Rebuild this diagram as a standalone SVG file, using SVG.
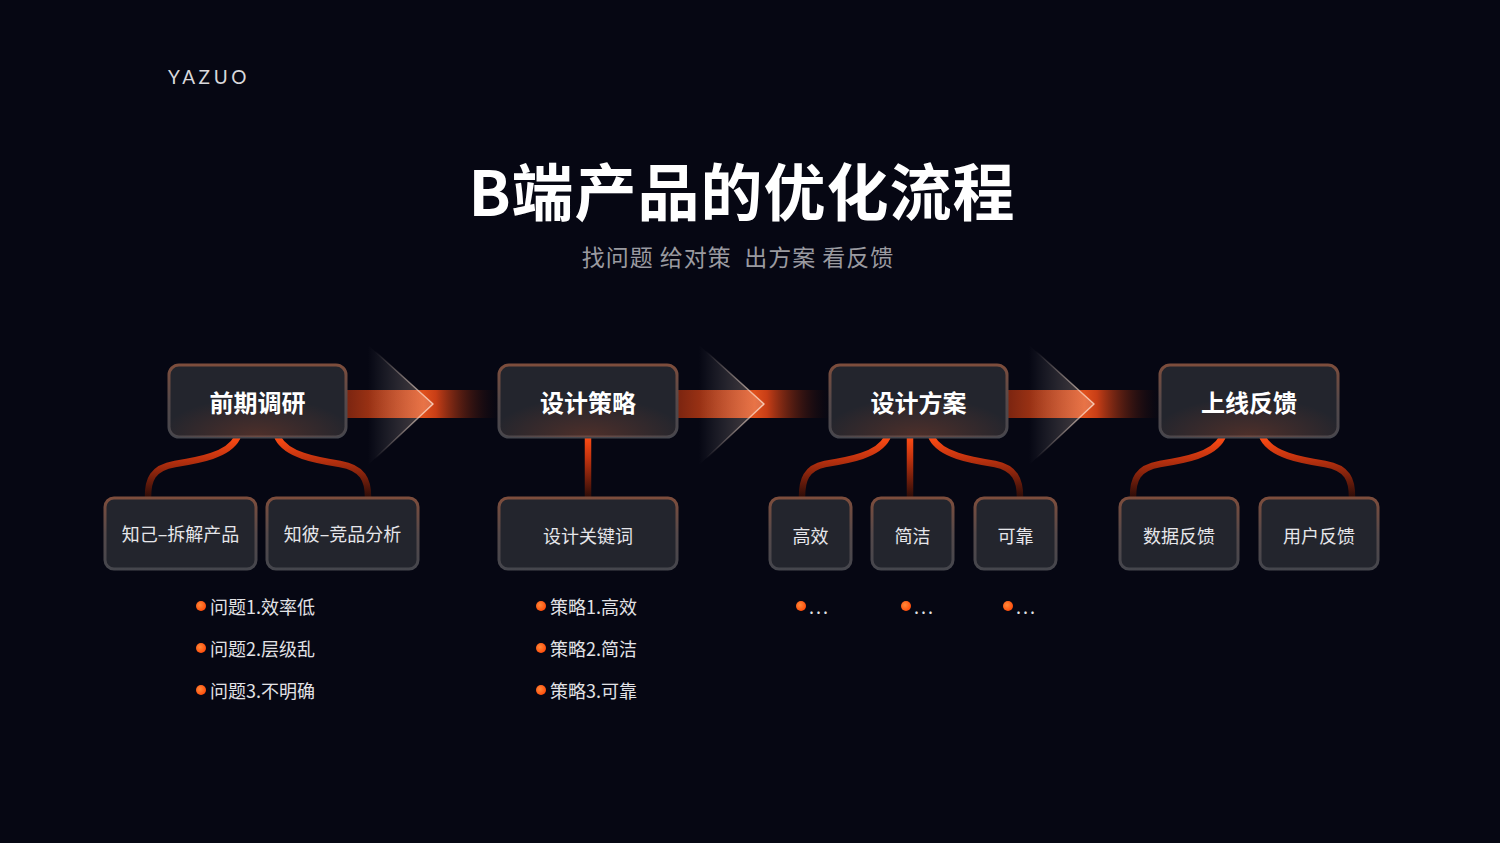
<svg xmlns="http://www.w3.org/2000/svg" width="1500" height="843" viewBox="0 0 1500 843">
<defs>
<style>
.cjk{font-family:"Noto Sans CJK SC","Noto Sans",sans-serif}
.top{fill:#ffffff;font-size:24px;font-weight:700;text-anchor:middle}
.sub{fill:#e6e6ea;font-size:18px;text-anchor:middle}
.bul{fill:#e2e2e6;font-size:18px}
.box{fill:#23252d;stroke:url(#bstroke);stroke-width:3}
.link{fill:none;stroke:url(#lg);stroke-width:6.5;stroke-linecap:round}
.band{fill:url(#bandg)}
.dots{letter-spacing:2px}
</style>
<linearGradient id="bstroke" x1="0" y1="0" x2="0" y2="1">
<stop offset="0" stop-color="#7d4d3c"/>
<stop offset="0.5" stop-color="#55494a"/>
<stop offset="1" stop-color="#45464d"/>
</linearGradient>
<radialGradient id="glow" cx="0.5" cy="1" r="0.55">
<stop offset="0" stop-color="#ff5a1e" stop-opacity="0.2"/>
<stop offset="1" stop-color="#ff5a1e" stop-opacity="0"/>
</radialGradient>
<linearGradient id="lg" x1="0" y1="437" x2="0" y2="497" gradientUnits="userSpaceOnUse">
<stop offset="0" stop-color="#ff4c14"/>
<stop offset="0.35" stop-color="#c2330f"/>
<stop offset="1" stop-color="#2c0c08"/>
</linearGradient>
<linearGradient id="bandg" x1="0" y1="0" x2="1" y2="0">
<stop offset="0" stop-color="#7a2410"/>
<stop offset="0.5" stop-color="#e0501c"/>
<stop offset="0.58" stop-color="#c83e16"/>
<stop offset="1" stop-color="#1a0808" stop-opacity="0"/>
</linearGradient>
<linearGradient id="trig" x1="0" y1="0" x2="1" y2="0">
<stop offset="0" stop-color="#ffffff" stop-opacity="0"/>
<stop offset="1" stop-color="#ffd2b8" stop-opacity="0.3"/>
</linearGradient>
<radialGradient id="tedge" cx="1" cy="0.5" r="1">
<stop offset="0" stop-color="#ffe6d6" stop-opacity="0.8"/>
<stop offset="1" stop-color="#ffe6d6" stop-opacity="0"/>
</radialGradient>
<radialGradient id="dot" cx="0.4" cy="0.4" r="0.6">
<stop offset="0" stop-color="#ff8a3a"/>
<stop offset="1" stop-color="#ff4e0c"/>
</radialGradient>
<g id="arrow">
<rect class="band" x="0" y="390" width="155" height="28"/>
<polygon points="22,345 87,404 22,465" fill="url(#trig)"/>
<polyline points="22,345 87,404 22,465" fill="none" stroke="url(#tedge)" stroke-width="1.5" stroke-linejoin="round"/>
</g>
</defs>
<rect width="1500" height="843" fill="#060713"/>

<text x="168" y="84" font-family="Lato,'Liberation Sans',sans-serif" font-size="19" fill="#d8d8dc" letter-spacing="3.6">YAZUO</text>
<text class="cjk" x="742" y="216" font-size="62" font-weight="700" fill="#ffffff" text-anchor="middle" letter-spacing="1">B端产品的优化流程</text>
<text class="cjk" x="738" y="266" font-size="23" fill="#9a9aa0" text-anchor="middle" letter-spacing="1" xml:space="preserve">找问题 给对策  出方案 看反馈</text>

<g id="connectors">
<use href="#arrow" x="346"/>
<use href="#arrow" x="677"/>
<use href="#arrow" x="1007"/>
<path class="link" d="M237,438 C228,455 200,460 175,464 C152,468 148,480 148,497"/>
<path class="link" d="M278,438 C287,455 315,460 340,464 C363,468 368,480 368,497"/>
<line class="link" x1="588" y1="438" x2="588" y2="497" stroke-linecap="butt"/>
<path class="link" d="M887,438 C878,455 850,460 825,464 C806,468 802,480 802,497"/>
<line class="link" x1="910" y1="438" x2="910" y2="497" stroke-linecap="butt"/>
<path class="link" d="M932,438 C941,455 970,460 995,464 C1015,468 1020,480 1020,497"/>
<path class="link" d="M1222,438 C1213,455 1185,460 1160,464 C1137,468 1133,480 1133,497"/>
<path class="link" d="M1263,438 C1272,455 1300,460 1325,464 C1348,468 1352,480 1352,497"/>
</g>

<g id="n1">
<rect class="box" x="169" y="365" width="177" height="72" rx="10"/>
<rect x="169" y="365" width="177" height="72" rx="10" fill="url(#glow)"/>
<text class="cjk top" x="257.5" y="412">前期调研</text>
</g>
<g id="n2">
<rect class="box" x="499" y="365" width="178" height="72" rx="10"/>
<rect x="499" y="365" width="178" height="72" rx="10" fill="url(#glow)"/>
<text class="cjk top" x="588" y="412">设计策略</text>
</g>
<g id="n3">
<rect class="box" x="830" y="365" width="177" height="72" rx="10"/>
<rect x="830" y="365" width="177" height="72" rx="10" fill="url(#glow)"/>
<text class="cjk top" x="918.5" y="412">设计方案</text>
</g>
<g id="n4">
<rect class="box" x="1160" y="365" width="178" height="72" rx="10"/>
<rect x="1160" y="365" width="178" height="72" rx="10" fill="url(#glow)"/>
<text class="cjk top" x="1249" y="412">上线反馈</text>
</g>

<g id="c1a">
<rect class="box" x="105" y="498" width="151" height="71" rx="9"/>
<text class="cjk sub" x="180.5" y="541">知己–拆解产品</text>
</g>
<g id="c1b">
<rect class="box" x="267" y="498" width="151" height="71" rx="9"/>
<text class="cjk sub" x="342.5" y="541">知彼–竞品分析</text>
</g>
<g id="c2">
<rect class="box" x="499" y="498" width="178" height="71" rx="9"/>
<text class="cjk sub" x="588" y="543">设计关键词</text>
</g>
<g id="c3a">
<rect class="box" x="770" y="498" width="81" height="71" rx="9"/>
<text class="cjk sub" x="810.5" y="543">高效</text>
</g>
<g id="c3b">
<rect class="box" x="872" y="498" width="81" height="71" rx="9"/>
<text class="cjk sub" x="912.5" y="543">简洁</text>
</g>
<g id="c3c">
<rect class="box" x="975" y="498" width="81" height="71" rx="9"/>
<text class="cjk sub" x="1015.5" y="543">可靠</text>
</g>
<g id="c4a">
<rect class="box" x="1120" y="498" width="118" height="71" rx="9"/>
<text class="cjk sub" x="1179" y="543">数据反馈</text>
</g>
<g id="c4b">
<rect class="box" x="1260" y="498" width="118" height="71" rx="9"/>
<text class="cjk sub" x="1319" y="543">用户反馈</text>
</g>

<g id="bullets1">
<circle cx="201" cy="606" r="5" fill="url(#dot)"/>
<text class="cjk bul" x="210" y="614">问题1.效率低</text>
<circle cx="201" cy="648" r="5" fill="url(#dot)"/>
<text class="cjk bul" x="210" y="656">问题2.层级乱</text>
<circle cx="201" cy="690" r="5" fill="url(#dot)"/>
<text class="cjk bul" x="210" y="698">问题3.不明确</text>
</g>
<g id="bullets2">
<circle cx="541" cy="606" r="5" fill="url(#dot)"/>
<text class="cjk bul" x="550" y="614">策略1.高效</text>
<circle cx="541" cy="648" r="5" fill="url(#dot)"/>
<text class="cjk bul" x="550" y="656">策略2.简洁</text>
<circle cx="541" cy="690" r="5" fill="url(#dot)"/>
<text class="cjk bul" x="550" y="698">策略3.可靠</text>
</g>
<g id="bullets3">
<circle cx="801" cy="606" r="5" fill="url(#dot)"/>
<text class="cjk bul dots" x="809" y="614">...</text>
<circle cx="906" cy="606" r="5" fill="url(#dot)"/>
<text class="cjk bul dots" x="914" y="614">...</text>
<circle cx="1008" cy="606" r="5" fill="url(#dot)"/>
<text class="cjk bul dots" x="1016" y="614">...</text>
</g>
</svg>
